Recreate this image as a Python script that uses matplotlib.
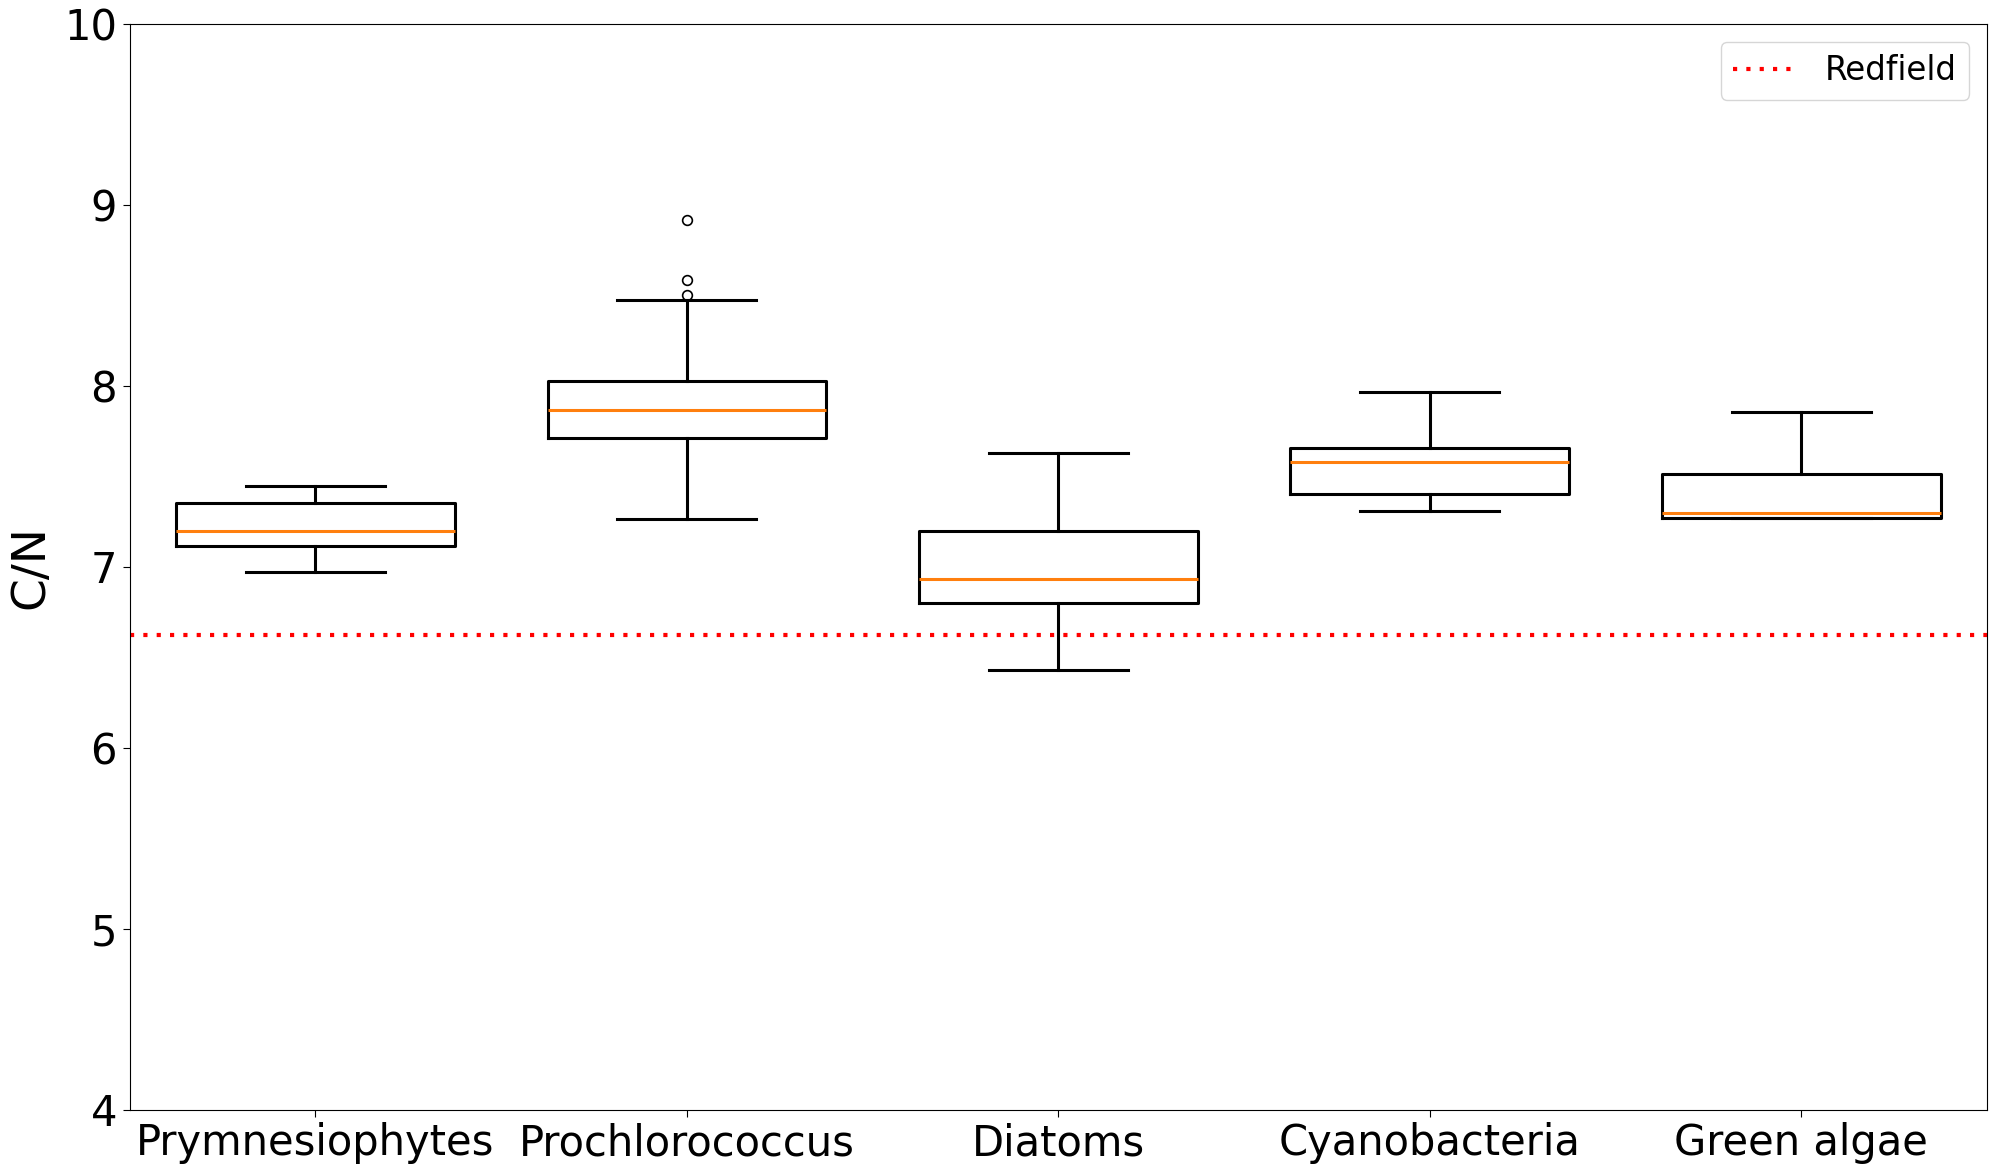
import matplotlib
matplotlib.use("Agg")
import matplotlib.pyplot as plt

categories = ["Prymnesiophytes", "Prochlorococcus", "Diatoms", "Cyanobacteria", "Green algae"]
whislo = [6.97, 7.264, 6.43, 7.308, 7.27]
q1 = [7.116, 7.712, 6.803, 7.401, 7.27]
med = [7.197, 7.869, 6.933, 7.581, 7.296]
q3 = [7.355, 8.025, 7.200, 7.658, 7.515]
whishi = [7.446, 8.473, 7.628, 7.968, 7.858]
fliers = [[], [8.50, 8.585, 8.915], [], [], []]
redfield = 106 / 16
yticks = [4, 5, 6, 7, 8, 9, 10]

stats = []
for i, name in enumerate(categories):
    stats.append(dict(label=name, whislo=whislo[i], q1=q1[i], med=med[i],
                      q3=q3[i], whishi=whishi[i], fliers=fliers[i]))

fig = plt.figure(figsize=(19.94, 11.70), dpi=100)
ax = fig.add_axes([0.065, 0.0513, 0.9315, 0.9282])

ax.bxp(stats, positions=range(1, len(categories) + 1), widths=0.75,
       boxprops=dict(color="black", linewidth=2.2),
       whiskerprops=dict(color="black", linewidth=2.2),
       capprops=dict(color="black", linewidth=2.2),
       medianprops=dict(color="#ff7f0e", linewidth=2.2),
       flierprops=dict(marker="o", markersize=7, markerfacecolor="none",
                       markeredgecolor="black", markeredgewidth=1.2))

ax.axhline(redfield, color="red", linewidth=3, linestyle=(0, (1, 2.2)), label="Redfield")

ax.set_xlim(0.5, len(categories) + 0.5)
ax.set_ylim(4, 10)
ax.set_yticks(yticks)
ax.set_yticklabels([str(t) for t in yticks])
ax.set_xticks(range(1, len(categories) + 1))
ax.set_xticklabels(categories)
ax.tick_params(axis="both", labelsize=30, length=5, pad=4)
ax.set_ylabel("C/N", fontsize=34, labelpad=8)
ax.legend(loc="upper right", fontsize=23.5, handlelength=2.0, borderpad=0.38,
          borderaxespad=0.55)

fig.savefig("out.png", dpi=100)
